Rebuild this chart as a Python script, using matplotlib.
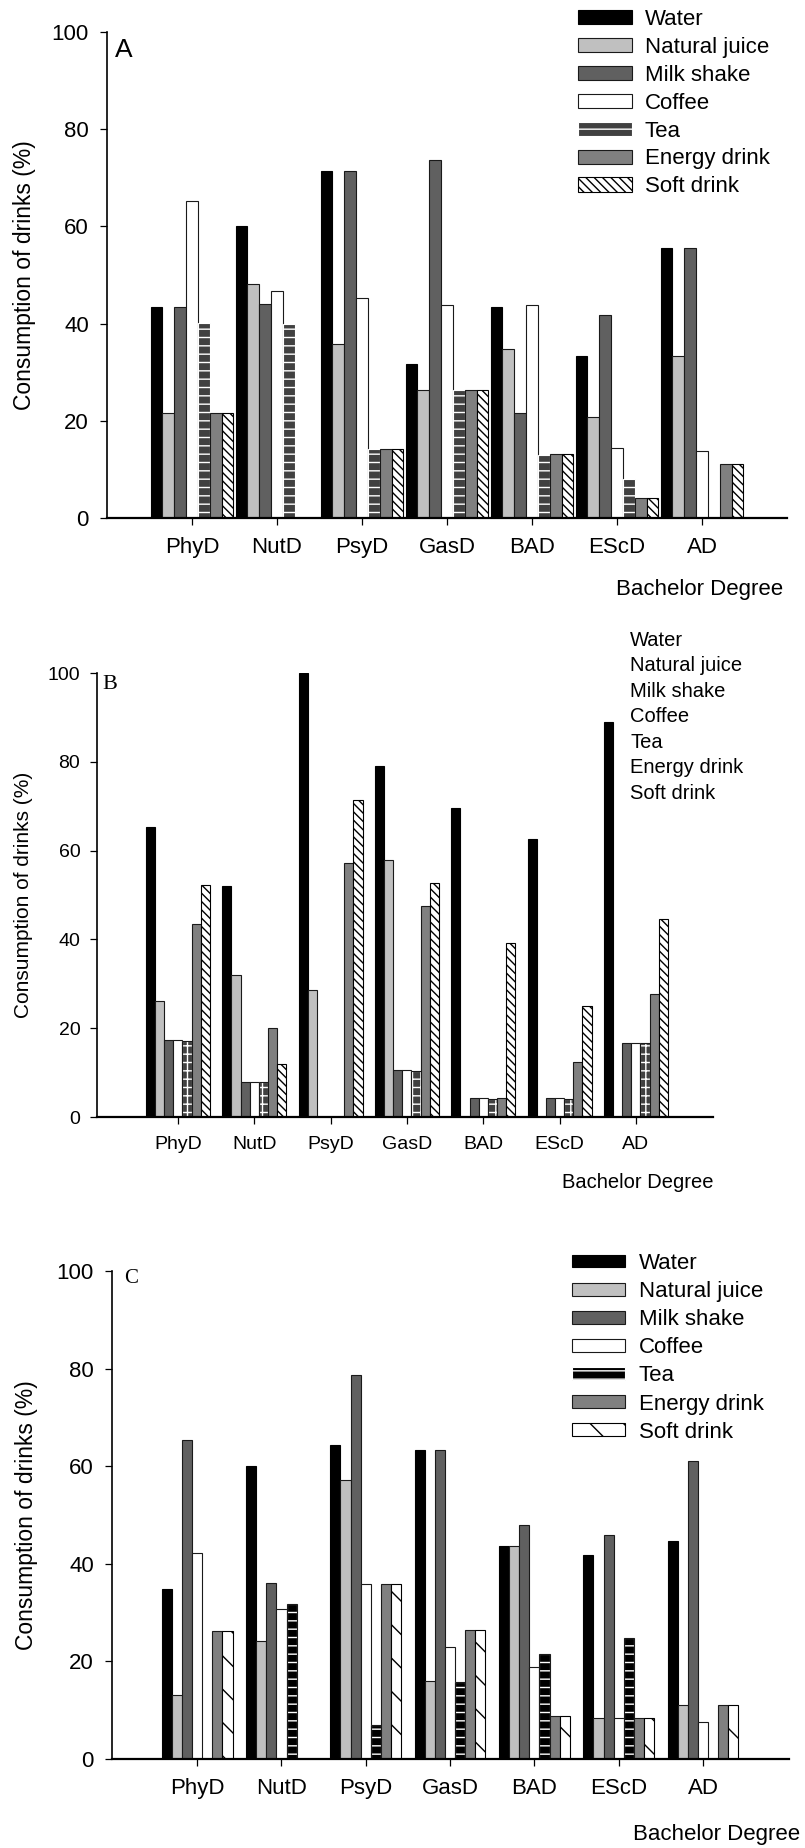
import matplotlib
matplotlib.use('Agg')
import matplotlib.pyplot as plt
import matplotlib.patches as mpatches
import numpy as np

plt.rcParams['font.family'] = ['Liberation Sans', 'DejaVu Sans']
plt.rcParams['hatch.linewidth'] = 1.0

degrees = ['PhyD', 'NutD', 'PsyD', 'GasD', 'BAD', 'EScD', 'AD']
drinks = ['Water', 'Natural juice', 'Milk shake', 'Coffee', 'Tea', 'Energy drink', 'Soft drink']
yticks = [0, 20, 40, 60, 80, 100]

# Panel A
a_water = [43.5, 60.0, 71.5, 31.6, 43.5, 33.3, 55.6]
a_juice = [21.7, 48.1, 35.7, 26.3, 34.8, 20.8, 33.3]
a_milk = [43.5, 44.0, 71.5, 73.7, 21.7, 41.7, 55.6]
a_coffee = [65.3, 46.7, 45.2, 43.8, 43.8, 14.5, 13.8]
a_tea = [40.2, 40.0, 14.1, 26.3, 12.9, 8.0, 0.0]
a_energy = [21.7, 0.0, 14.3, 26.3, 13.2, 4.1, 11.2]
a_soft = [21.7, 0.0, 14.3, 26.3, 13.2, 4.1, 11.2]

# Panel B
b_water = [65.3, 52.1, 100.0, 79.1, 69.6, 62.6, 89.0]
b_juice = [26.1, 32.0, 28.6, 57.9, 0.0, 0.0, 0.0]
b_milk = [17.4, 7.9, 0.0, 10.5, 4.3, 4.2, 16.7]
b_coffee = [17.4, 7.9, 0.0, 10.5, 4.3, 4.2, 16.7]
b_tea = [17.2, 7.8, 0.0, 10.3, 4.1, 4.0, 16.6]
b_energy = [43.5, 20.0, 57.2, 47.5, 4.3, 12.5, 27.8]
b_soft = [52.3, 12.0, 71.5, 52.7, 39.2, 25.0, 44.6]

# Panel C
c_water = [34.9, 60.1, 64.3, 63.3, 43.6, 41.9, 44.6]
c_juice = [13.1, 24.1, 57.1, 15.9, 43.6, 8.4, 11.1]
c_milk = [65.3, 36.1, 78.7, 63.3, 47.9, 45.9, 61.0]
c_coffee = [42.2, 30.7, 35.8, 22.9, 18.9, 8.4, 7.5]
c_tea = [0.0, 31.7, 7.0, 15.7, 21.6, 24.7, 0.0]
c_energy = [26.2, 0.0, 35.8, 26.4, 8.9, 8.4, 11.1]
c_soft = [26.2, 0.0, 35.8, 26.4, 8.9, 8.4, 11.1]

W, H = 805, 1848
fig = plt.figure(figsize=(W / 100, H / 100), dpi=100)


def px_axes(left, top, right, bottom):
    return fig.add_axes([left / W, 1 - bottom / H, (right - left) / W, (bottom - top) / H])


def styles(tea_face, tea_hatch, soft_hatch):
    return [
        dict(color='#000000', edgecolor='#000000', hatch=None),
        dict(color='#c0c0c0', edgecolor='#1a1a1a', hatch=None),
        dict(color='#606060', edgecolor='#1a1a1a', hatch=None),
        dict(color='#ffffff', edgecolor='#1a1a1a', hatch=None),
        dict(color=tea_face, edgecolor='#ffffff', hatch=tea_hatch),
        dict(color='#808080', edgecolor='#1a1a1a', hatch=None),
        dict(color='#ffffff', edgecolor='#000000', hatch=soft_hatch),
    ]


def draw(ax, series, width, st, tea_outline, xlim, fs_tick, tick_pad_x, tick_pad_y):
    x = np.arange(len(degrees))
    n = len(series)
    handles = []
    for i, (vals, s) in enumerate(zip(series, st)):
        pos = x + (i - (n - 1) / 2) * width
        bars = ax.bar(pos, vals, width, linewidth=0.8, label=drinks[i], **s)
        handles.append(bars)
        if i == 4 and tea_outline:
            ax.bar(pos, vals, width, fill=False, edgecolor='#1a1a1a', linewidth=0.8)
    ax.set_xlim(*xlim)
    ax.set_ylim(0, 100)
    ax.set_xticks(x)
    ax.set_xticklabels(degrees)
    ax.set_yticks(yticks)
    for sp in ['top', 'right']:
        ax.spines[sp].set_visible(False)
    ax.spines['left'].set_linewidth(1.2)
    ax.spines['bottom'].set_linewidth(1.6)
    ax.tick_params(axis='both', direction='out', length=5, width=0.9, labelsize=fs_tick)
    ax.tick_params(axis='x', pad=tick_pad_x)
    ax.tick_params(axis='y', pad=tick_pad_y)
    return handles


# ---------- Panel A ----------
axA = px_axes(107, 32, 787, 518)
hA = draw(axA, [a_water, a_juice, a_milk, a_coffee, a_tea, a_energy, a_soft], 0.139,
          styles('#404040', '--', '\\\\\\\\'), False, (-1, 7), 16, 9, 8)
axA.set_ylabel('Consumption of drinks (%)', fontsize=16.5, va='center')
axA.yaxis.set_label_coords(-0.122, 0.5)
axA.set_xlabel('Bachelor Degree', fontsize=16, ha='right', va='center')
axA.xaxis.set_label_coords(0.994, -0.148)
axA.text(0.025, 0.963, 'A', transform=axA.transAxes, fontsize=19, ha='center', va='center')
axA.legend(handles=hA, loc='upper left', bbox_to_anchor=(578 / W, 1 - 9 / H),
           bbox_transform=fig.transFigure, frameon=False, fontsize=16,
           handlelength=2.45, handleheight=0.6, handletextpad=0.55,
           labelspacing=0.31, borderpad=0, borderaxespad=0)

# ---------- Panel B ----------
axB = px_axes(97, 673, 713, 1117)
hB = draw(axB, [b_water, b_juice, b_milk, b_coffee, b_tea, b_energy, b_soft], 0.12,
          styles('#404040', '++', '\\\\\\\\'), True, (-1.06, 7.01), 14, 9, 7)
axB.set_ylabel('Consumption of drinks (%)', fontsize=15, va='center')
axB.yaxis.set_label_coords(-0.120, 0.5)
axB.set_xlabel('Bachelor Degree', fontsize=14.5, ha='right', va='center')
axB.xaxis.set_label_coords(1.0016, -0.1486)
axB.text(0.021, 0.975, 'B', transform=axB.transAxes, fontsize=16, ha='center', va='center',
         family=['Liberation Serif', 'DejaVu Serif'])
inv = [mpatches.Patch(facecolor='none', edgecolor='none', label=d) for d in drinks]
axB.legend(handles=inv, loc='upper left', bbox_to_anchor=(630 / W, 1 - 631 / H),
           bbox_transform=fig.transFigure, frameon=False, fontsize=14.5,
           handlelength=0, handletextpad=0, labelspacing=0.32, borderpad=0, borderaxespad=0)

# ---------- Panel C ----------
axC = px_axes(112, 1271, 789, 1759)
hC = draw(axC, [c_water, c_juice, c_milk, c_coffee, c_tea, c_energy, c_soft], 0.12,
          styles('#000000', '--', '\\'), True, (-1.01, 7.02), 16, 9, 8)
axC.set_ylabel('Consumption of drinks (%)', fontsize=16.5, va='center')
axC.yaxis.set_label_coords(-0.127, 0.5)
axC.set_xlabel('Bachelor Degree', fontsize=16, ha='right', va='center')
axC.xaxis.set_label_coords(1.0163, -0.1557)
axC.text(0.028, 0.984, 'C', transform=axC.transAxes, fontsize=15, ha='center', va='center',
         family=['Liberation Serif', 'DejaVu Serif'])
axC.legend(handles=hC, loc='upper left', bbox_to_anchor=(572 / W, 1 - 1253 / H),
           bbox_transform=fig.transFigure, frameon=False, fontsize=16,
           handlelength=2.4, handleheight=0.5, handletextpad=0.6,
           labelspacing=0.32, borderpad=0, borderaxespad=0)

fig.savefig('out.png', dpi=100)
